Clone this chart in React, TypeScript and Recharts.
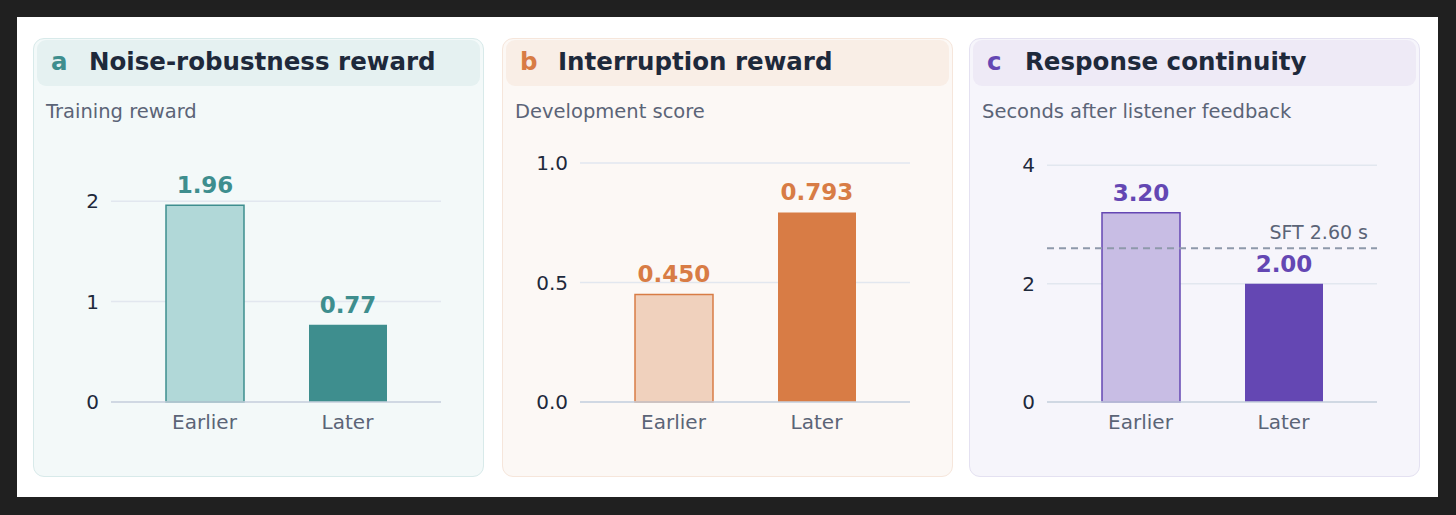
import { BarChart, Bar, XAxis, YAxis, CartesianGrid, Cell, LabelList, ReferenceLine } from 'recharts';

const categories = ['Earlier', 'Later'];

const noiseValues = [1.96, 0.77];
const noiseLabels = ['1.96', '0.77'];
const noiseTicks = [0, 1, 2];

const interruptValues = [0.45, 0.793];
const interruptLabels = ['0.450', '0.793'];
const interruptTicks = [0, 0.5, 1.0];

const continuityValues = [3.2, 2.0];
const continuityLabels = ['3.20', '2.00'];
const continuityTicks = [0, 2, 4];
const sftBaseline = 2.6;

const FONT = '"DejaVu Sans", Verdana, sans-serif';

interface PanelTheme {
  dark: string;
  light: string;
  bg: string;
  border: string;
  header: string;
}

const THEMES: Record<string, PanelTheme> = {
  teal: { dark: '#3e8e8e', light: '#b1d8d8', bg: '#f3f9f9', border: '#d8eaea', header: '#e5f1f1' },
  orange: { dark: '#d87c45', light: '#f0d1bd', bg: '#fcf8f5', border: '#f6e6db', header: '#f9eee6' },
  purple: { dark: '#6447b3', light: '#c8bde4', bg: '#f6f5fb', border: '#e4e1f1', header: '#eeeaf6' },
};

interface PanelProps {
  letter: string;
  title: string;
  subtitle: string;
  theme: PanelTheme;
  values: number[];
  labels: string[];
  ticks: number[];
  domainMax: number;
  tickFormat: (v: number) => string;
  left: number;
  refValue?: number;
  refLabel?: string;
}

function Panel({
  letter,
  title,
  subtitle,
  theme,
  values,
  labels,
  ticks,
  domainMax,
  tickFormat,
  left,
  refValue,
  refLabel,
}: PanelProps) {
  const data = categories.map((name, i) => ({ name, value: values[i], label: labels[i] }));

  // grid only at the tick values, not at the top edge of the domain
  const gridRows = (props: any) => {
    const scale = props?.yAxis?.scale;
    if (typeof scale === 'function') {
      return ticks.map((t) => scale(t));
    }
    const top = props.offset.top;
    const h = props.offset.height;
    return ticks.map((t) => top + h - (t / domainMax) * h);
  };

  return (
    <div
      style={{
        position: 'absolute',
        left,
        top: 21,
        width: 449,
        height: 437,
        background: theme.bg,
        border: `1px solid ${theme.border}`,
        borderRadius: 11,
        fontFamily: FONT,
      }}
    >
      <div
        style={{
          position: 'absolute',
          left: 3,
          top: 1,
          width: 443,
          height: 46,
          background: theme.header,
          borderRadius: 9,
        }}
      >
        <span
          style={{
            position: 'absolute',
            left: 14,
            top: 7,
            fontSize: 24.5,
            fontWeight: 'bold',
            color: theme.dark,
          }}
        >
          {letter}
        </span>
        <span
          style={{
            position: 'absolute',
            left: 52,
            top: 7,
            fontSize: 24.5,
            fontWeight: 'bold',
            color: '#1e293b',
            whiteSpace: 'nowrap',
          }}
        >
          {title}
        </span>
      </div>
      <div
        style={{
          position: 'absolute',
          left: 12,
          top: 61,
          fontSize: 19.5,
          color: '#5b6477',
          whiteSpace: 'nowrap',
        }}
      >
        {subtitle}
      </div>
      <div style={{ position: 'absolute', left: 0, top: 0 }}>
        <BarChart
          width={449}
          height={437}
          data={data}
          margin={{ top: 124, right: 42, bottom: 34, left: 17 }}
        >
          <CartesianGrid
            vertical={false}
            stroke="#e2e7ef"
            strokeWidth={1.5}
            horizontalCoordinatesGenerator={gridRows}
          />
          <XAxis
            dataKey="name"
            axisLine={{ stroke: '#c9d2de', strokeWidth: 1.5 }}
            tickLine={false}
            tickSize={0}
            tickMargin={13}
            height={40}
            padding={{ left: 22, right: 22 }}
            tick={{ fill: '#5b6477', fontSize: 20, fontFamily: FONT }}
          />
          <YAxis
            width={60}
            domain={[0, domainMax]}
            ticks={ticks}
            tickFormatter={tickFormat}
            axisLine={false}
            tickLine={false}
            tickSize={0}
            tickMargin={12}
            tick={{ fill: '#1e293b', fontSize: 20, fontFamily: FONT }}
          />
          {refValue !== undefined && (
            <ReferenceLine
              y={refValue}
              stroke="#8e99ab"
              strokeWidth={2}
              strokeDasharray="7 5"
              label={{
                value: refLabel,
                position: 'insideBottomRight',
                fill: '#5b6477',
                fontSize: 19,
                fontFamily: FONT,
                offset: 9,
              }}
            />
          )}
          <Bar dataKey="value" barSize={78} isAnimationActive={false}>
            {data.map((entry, i) => (
              <Cell
                key={`cell-${entry.name}`}
                fill={i === 0 ? theme.light : theme.dark}
                stroke={theme.dark}
                strokeWidth={i === 0 ? 1.5 : 0}
              />
            ))}
            <LabelList
              dataKey="label"
              position="top"
              offset={12}
              fill={theme.dark}
              fontSize={23}
              fontWeight="bold"
              fontFamily={FONT}
            />
          </Bar>
        </BarChart>
      </div>
    </div>
  );
}

export default function App() {
  return (
    <div
      style={{
        position: 'fixed',
        left: 0,
        top: 0,
        width: 1456,
        height: 515,
        background: '#202020',
      }}
    >
      <div
        style={{
          position: 'absolute',
          left: 17,
          top: 17,
          width: 1421,
          height: 480,
          background: '#ffffff',
        }}
      >
        <Panel
          letter="a"
          title="Noise-robustness reward"
          subtitle="Training reward"
          theme={THEMES.teal}
          values={noiseValues}
          labels={noiseLabels}
          ticks={noiseTicks}
          domainMax={2.38}
          tickFormat={(v) => String(v)}
          left={16}
        />
        <Panel
          letter="b"
          title="Interruption reward"
          subtitle="Development score"
          theme={THEMES.orange}
          values={interruptValues}
          labels={interruptLabels}
          ticks={interruptTicks}
          domainMax={1.0}
          tickFormat={(v) => v.toFixed(1)}
          left={485}
        />
        <Panel
          letter="c"
          title="Response continuity"
          subtitle="Seconds after listener feedback"
          theme={THEMES.purple}
          values={continuityValues}
          labels={continuityLabels}
          ticks={continuityTicks}
          domainMax={4.04}
          tickFormat={(v) => String(v)}
          left={952}
          refValue={sftBaseline}
          refLabel="SFT 2.60 s"
        />
      </div>
    </div>
  );
}
